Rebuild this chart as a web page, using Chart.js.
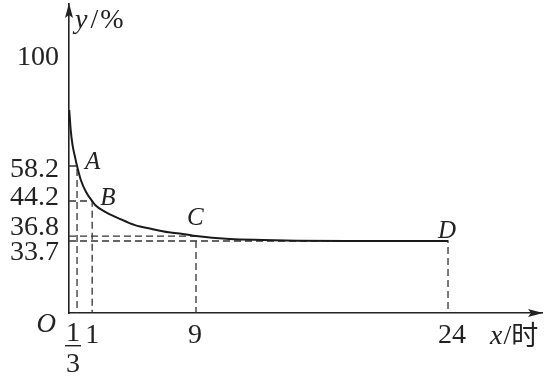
<!DOCTYPE html>
<html>
<head>
<meta charset="utf-8">
<script src="https://cdn.jsdelivr.net/npm/chart.js@4"></script>
<style>
  html, body { margin: 0; padding: 0; background: #fff; }
  canvas { display: block; }
</style>
</head>
<body>
<canvas id="chart" width="544" height="376"></canvas>
<script>
// curve (x in hours, y in %)
const curveX = [0.01, 0.07, 0.146, 0.25, 1/3, 0.5, 0.73, 1, 1.25, 2, 3, 4.3, 5.6, 6.9, 8.1, 9, 11, 13, 15, 18, 21, 24];
const curveY = [79.5, 71.9, 66.2, 61.6, 58.2, 52.6, 47.8, 44.2, 43.3, 41.9, 40.6, 39.1, 38.3, 37.6, 37.2, 36.8, 34.9, 34.3, 33.9, 33.7, 33.7, 33.7];

const pointNames = ['A', 'B', 'C', 'D'];
const pointX = [1/3, 1, 9, 24];
const pointY = [58.2, 44.2, 36.8, 33.7];

const xTicks = [1/3, 1, 9, 24];
const xTickLabels = ['1/3', '1', '9', '24'];
const yTicks = [100, 58.2, 44.2, 36.8, 33.7];
const yTickLabels = ['100', '58.2', '44.2', '36.8', '33.7'];

// the figure is not drawn to scale, so the axes use a piecewise linear scale
// [value, fraction of axis length]
const scaleStops = {
  x: [[0, 0], [1/3, 0.017], [1, 0.049], [9, 0.2685], [24, 0.8013], [29.6, 1]],
  y: [[0, 0], [33.7, 0.233], [36.8, 0.249], [44.2, 0.3625], [58.2, 0.4757], [100, 0.8317], [119.8, 1]]
};

class PiecewiseScale extends Chart.LinearScale {
  static id = 'piecewise';
  static defaults = {};
  getPixelForValue(value) {
    if (value === null || value === undefined) return NaN;
    const s = scaleStops[this.id];
    let i = 1;
    while (i < s.length - 1 && value > s[i][0]) i++;
    const [v0, f0] = s[i - 1], [v1, f1] = s[i];
    return this.getPixelForDecimal(f0 + (value - v0) / (v1 - v0) * (f1 - f0));
  }
  getValueForPixel(pixel) {
    const d = this.getDecimalForPixel(pixel);
    const s = scaleStops[this.id];
    let i = 1;
    while (i < s.length - 1 && d > s[i][1]) i++;
    const [v0, f0] = s[i - 1], [v1, f1] = s[i];
    return v0 + (d - f0) / (f1 - f0) * (v1 - v0);
  }
}
Chart.register(PiecewiseScale);

const ink = '#222';
const serif = '"Liberation Serif", "DejaVu Serif", serif';

const dashSets = pointNames.map((n, i) => ({
  label: n,
  data: [{x: 0, y: pointY[i]}, {x: pointX[i], y: pointY[i]}, {x: pointX[i], y: 0}],
  borderColor: '#333',
  borderWidth: 1.3,
  borderDash: [7, 4],
  pointRadius: 0,
  tension: 0
}));

const figurePlugin = {
  id: 'figure',
  afterDraw(chart) {
    const {ctx, chartArea, scales: {x, y}} = chart;
    const ox = x.getPixelForValue(0), oy = y.getPixelForValue(0);
    ctx.save();
    ctx.fillStyle = ink;

    // axis arrows
    ctx.beginPath();
    ctx.moveTo(ox, chartArea.top - 1);
    ctx.lineTo(ox - 4, chartArea.top + 14);
    ctx.lineTo(ox, chartArea.top + 11);
    ctx.lineTo(ox + 4, chartArea.top + 14);
    ctx.closePath();
    ctx.fill();
    ctx.beginPath();
    ctx.moveTo(chartArea.right + 1, oy);
    ctx.lineTo(chartArea.right - 14, oy - 4);
    ctx.lineTo(chartArea.right - 11, oy);
    ctx.lineTo(chartArea.right - 14, oy + 4);
    ctx.closePath();
    ctx.fill();

    // y tick labels (spread apart like the original figure)
    const yShift = [9, 11, 4, -1, 19];
    ctx.font = '28px ' + serif;
    ctx.textAlign = 'right';
    ctx.textBaseline = 'alphabetic';
    yTicks.forEach((v, i) => {
      ctx.fillText(yTickLabels[i], 59, y.getPixelForValue(v) + yShift[i]);
    });

    // x tick labels
    const xShift = [-4, 0, -1, 4];
    ctx.textAlign = 'center';
    xTicks.forEach((v, i) => {
      const px = x.getPixelForValue(v) + xShift[i];
      const lab = xTickLabels[i];
      if (lab.includes('/')) {
        const [num, den] = lab.split('/');
        ctx.fillText(num, px, 341);
        ctx.fillRect(px - 8, 345, 16, 1.4);
        ctx.fillText(den, px, 372);
      } else {
        ctx.fillText(lab, px, 343);
      }
    });

    // origin
    ctx.font = 'italic 27px ' + serif;
    ctx.textAlign = 'right';
    ctx.fillText('O', ox - 13, 332);

    // point names
    const nameShift = [[8, 3], [8, 4], [-9, -11], [-10, -3]];
    ctx.font = 'italic 25px ' + serif;
    ctx.textAlign = 'left';
    pointNames.forEach((n, i) => {
      ctx.fillText(n, x.getPixelForValue(pointX[i]) + nameShift[i][0],
        y.getPixelForValue(pointY[i]) + nameShift[i][1]);
    });

    // axis titles
    ctx.font = 'italic 28px ' + serif;
    ctx.fillText('y', 75, 28);
    let w = ctx.measureText('y').width;
    ctx.font = '28px ' + serif;
    ctx.fillText('/', 75 + w + 3, 28);
    let w2 = ctx.measureText('/').width;
    ctx.fillText('%', 75 + w + w2 + 5, 28);

    ctx.font = 'italic 28px ' + serif;
    ctx.fillText('x', 490, 344);
    w = ctx.measureText('x').width;
    ctx.font = '28px ' + serif;
    ctx.fillText('/', 490 + w + 1, 344);
    w2 = ctx.measureText('/').width;
    ctx.font = '27px "Noto Sans CJK SC"';
    ctx.fillText('时', 490 + w + w2 + 1, 345);
    ctx.restore();
  }
};

new Chart(document.getElementById('chart'), {
  type: 'line',
  data: {
    datasets: [
      {
        label: 'curve',
        data: curveX.map((v, i) => ({x: v, y: curveY[i]})),
        borderColor: '#1a1a1a',
        borderWidth: 2,
        pointRadius: 0,
        cubicInterpolationMode: 'monotone'
      },
      ...dashSets
    ]
  },
  options: {
    responsive: false,
    animation: false,
    devicePixelRatio: 1,
    layout: { padding: { top: 4, right: 2, left: 0, bottom: 0 } },
    plugins: { legend: { display: false }, tooltip: { enabled: false } },
    scales: {
      x: {
        type: 'piecewise',
        min: 0,
        max: 29.6,
        grid: { display: false },
        border: { display: true, color: ink, width: 1.6 },
        ticks: { display: false },
        afterBuildTicks: s => { s.ticks = xTicks.map(v => ({value: v})); },
        afterFit: s => { s.height = 63; }
      },
      y: {
        type: 'piecewise',
        min: 0,
        max: 119.8,
        grid: { display: false },
        border: { display: true, color: ink, width: 1.6 },
        ticks: { display: false },
        afterBuildTicks: s => { s.ticks = yTicks.map(v => ({value: v})); },
        afterFit: s => { s.width = 69; }
      }
    }
  },
  plugins: [figurePlugin]
});
</script>
</body>
</html>
